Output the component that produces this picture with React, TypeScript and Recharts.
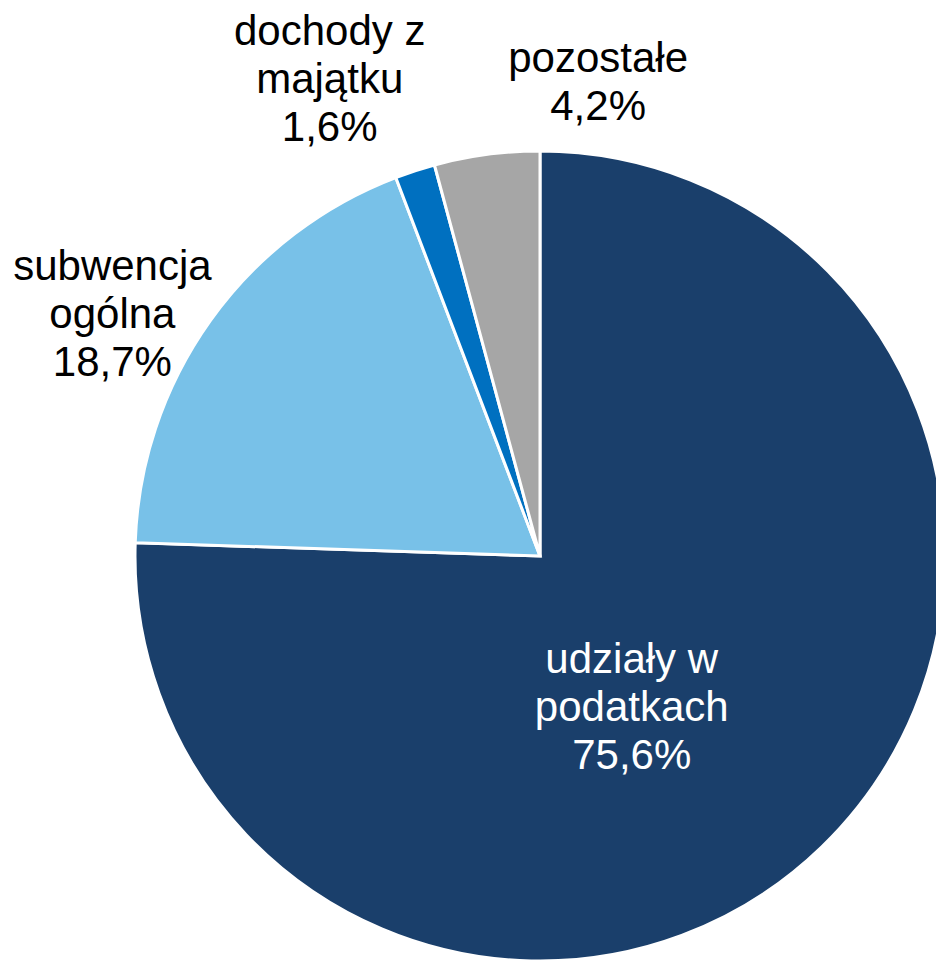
import { Cell, Pie, PieChart } from "recharts"

const categories = ["udziały w podatkach", "subwencja ogólna", "dochody z majątku", "pozostałe"]
const values = [75.6, 18.7, 1.6, 4.2]
// label text split in lines, as drawn in the reference
const labelLines = [
  ["udziały w", "podatkach", "75,6%"],
  ["subwencja", "ogólna", "18,7%"],
  ["dochody z", "majątku", "1,6%"],
  ["pozostałe", "4,2%"],
]

const COLORS = ["#1a3f6b", "#78c1e8", "#0070c0", "#a6a6a6"]
// label placement: radius factor along the mid angle plus a nudge
const LABEL_POS = [
  { k: 0.45, dx: -35, dy: 19 },
  { k: 1.2, dx: -32, dy: 40 },
  { k: 1.25, dx: -54, dy: 4 },
  { k: 1.2, dx: 122, dy: 7 },
]

const FONT = 42
const LINE_H = 48
const RAD = Math.PI / 180

const data = categories.map((name, i) => ({ name, value: values[i] }))

function renderLabel(props: any) {
  const { cx, cy, midAngle, outerRadius, index } = props
  const p = LABEL_POS[index]
  const r = outerRadius * p.k
  const x = cx + r * Math.cos(-midAngle * RAD) + p.dx
  const y = cy + r * Math.sin(-midAngle * RAD) + p.dy
  const lines = labelLines[index]
  const y0 = y - ((lines.length - 1) / 2) * LINE_H + FONT * 0.35
  return (
    <text
      x={x}
      y={y0}
      textAnchor="middle"
      fill={index === 0 ? "#ffffff" : "#000000"}
      fontSize={FONT}
      fontFamily="'Liberation Sans', Arial, sans-serif"
    >
      {lines.map((l, i) => (
        <tspan key={i} x={x} y={y0 + i * LINE_H}>
          {l}
        </tspan>
      ))}
    </text>
  )
}

export default function App() {
  return (
    <div style={{ position: "absolute", left: 0, top: 0, width: 936, height: 964, background: "#fff" }}>
      <PieChart width={936} height={964} margin={{ top: 0, right: 0, bottom: 0, left: 0 }}>
        <Pie
          data={data}
          dataKey="value"
          nameKey="name"
          cx={540}
          cy={556}
          outerRadius={405}
          startAngle={90}
          endAngle={-270}
          stroke="#ffffff"
          strokeWidth={3}
          label={renderLabel}
          labelLine={false}
          isAnimationActive={false}
        >
          {data.map((d, i) => (
            <Cell key={d.name} fill={COLORS[i]} />
          ))}
        </Pie>
      </PieChart>
    </div>
  )
}
